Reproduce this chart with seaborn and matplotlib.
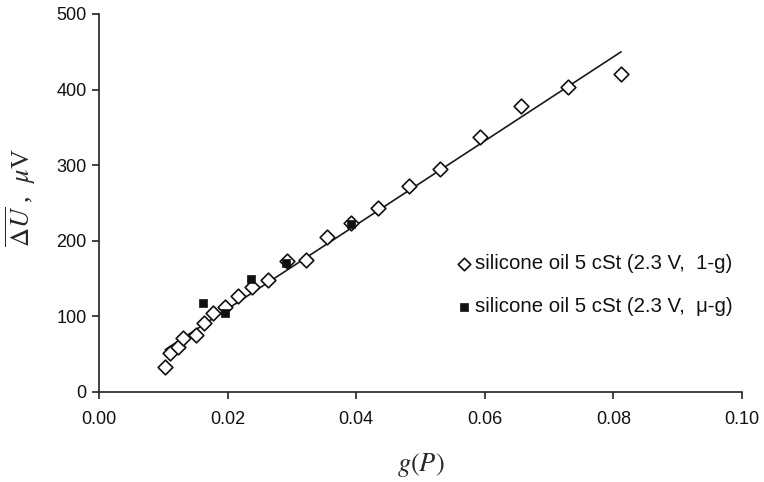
import numpy as np
import pandas as pd
import seaborn as sns
import matplotlib.pyplot as plt

# silicone oil 5 cSt, 1-g (open diamonds)
g_1g = [0.0102, 0.0111, 0.0123, 0.0131, 0.0151, 0.0164, 0.0178, 0.0196, 0.0216,
        0.0238, 0.0263, 0.0292, 0.0322, 0.0355, 0.0392, 0.0434, 0.0482, 0.0531,
        0.0593, 0.0656, 0.0729, 0.0812]
u_1g = [33, 52, 60, 72, 75, 91, 104, 113, 127, 139, 148, 173, 175, 205, 224,
        244, 272, 295, 337, 378, 403, 421]

# silicone oil 5 cSt, micro-g (filled squares)
g_mg = [0.0161, 0.0196, 0.0237, 0.0291, 0.0392]
u_mg = [118, 105, 149, 171, 222]

# trend line end points
line_g = [0.0103, 0.0812]
line_u = [56, 450]

label_1g = "silicone oil 5 cSt (2.3 V,  1-g)"
label_mg = "silicone oil 5 cSt (2.3 V,  \u03bc-g)"

sns.set_style("ticks")
plt.rcParams["font.family"] = ["Liberation Sans", "DejaVu Sans"]
plt.rcParams["mathtext.fontset"] = "stix"

fig = plt.figure(figsize=(7.64, 4.82), dpi=100)
ax = fig.add_axes([99 / 764, 1 - 392 / 482, 643 / 764, 378 / 482])

df_1g = pd.DataFrame({"g": g_1g, "u": u_1g})
df_mg = pd.DataFrame({"g": g_mg, "u": u_mg})
df_line = pd.DataFrame({"g": line_g, "u": line_u})

sns.lineplot(data=df_line, x="g", y="u", ax=ax, color="#1a1a1a", lw=1.2)
sns.scatterplot(data=df_1g, x="g", y="u", ax=ax, marker="D", s=56,
                facecolor="white", edgecolor="#111111", linewidth=1.2,
                label=label_1g, zorder=3)
sns.scatterplot(data=df_mg, x="g", y="u", ax=ax, marker="s", s=40,
                color="#111111", edgecolor="#111111", linewidth=0.5,
                label=label_mg, zorder=4)

ax.set_xlim(0, 0.10)
ax.set_ylim(0, 500)
ax.set_xticks(np.arange(0, 0.101, 0.02))
ax.set_xticklabels([f"{v:.2f}" for v in np.arange(0, 0.101, 0.02)])
ax.set_yticks(range(0, 501, 100))
ax.tick_params(axis="both", labelsize=13, length=5, width=1.2, color="#222222",
               labelcolor="#111111", pad=4)
ax.tick_params(axis="x", pad=9)
sns.despine(ax=ax)
for side in ["left", "bottom"]:
    ax.spines[side].set_linewidth(1.2)
    ax.spines[side].set_color("#222222")

ax.set_xlabel(r"$g\left(P\right)$", fontsize=19, family="Liberation Serif")
ax.set_ylabel(r"$\overline{\Delta U}$ ,  $\mu$V", fontsize=19, family="Liberation Serif")
ax.xaxis.set_label_coords(0.5, -0.155)
ax.yaxis.set_label_coords(-0.095, 0.515)

leg = ax.legend(loc="upper left", bbox_to_anchor=(0.54, 0.387), frameon=False,
                fontsize=14.7, handletextpad=0.1, labelspacing=1.2,
                handlelength=0.9, borderaxespad=0, markerscale=0.85)
for t in leg.get_texts():
    t.set_color("#111111")

fig.savefig("out.png", dpi=100)
